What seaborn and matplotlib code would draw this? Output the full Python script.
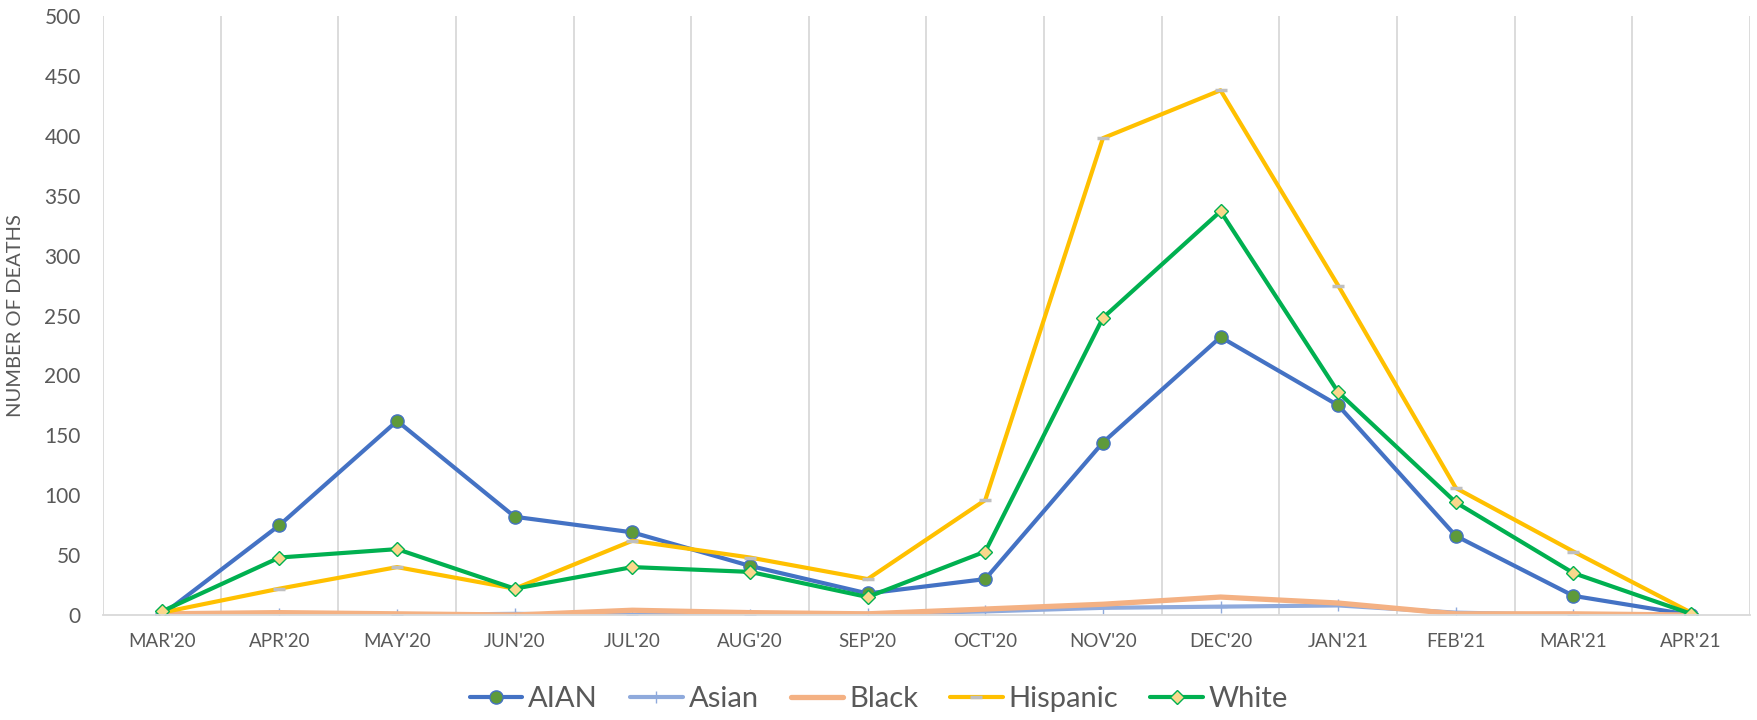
import numpy as np
import pandas as pd
import seaborn as sns
import matplotlib.pyplot as plt

months = ["MAR'20", "APR'20", "MAY'20", "JUN'20", "JUL'20", "AUG'20", "SEP'20",
          "OCT'20", "NOV'20", "DEC'20", "JAN'21", "FEB'21", "MAR'21", "APR'21"]

aian = [0, 75, 162, 82, 69, 41, 18, 30, 144, 232, 175, 66, 16, 0]
asian = [0, 1, 0, 1, 0, 0, 1, 3, 6, 7, 8, 2, 0, 0]
black = [1, 2, 1, 0, 4, 2, 1, 5, 9, 15, 10, 1, 1, 0]
hispanic = [2, 22, 40, 22, 62, 48, 30, 96, 398, 438, 275, 106, 53, 2]
white = [3, 48, 55, 22, 40, 36, 15, 53, 248, 337, 186, 94, 35, 1]

series = {"AIAN": aian, "Asian": asian, "Black": black,
          "Hispanic": hispanic, "White": white}

# line / marker look per group
styles = {
    "AIAN": dict(color="#4472C4", lw=3, marker="o", ms=9.5, mfc="#5E9A3A", mec="#4472C4", mew=1),
    "Asian": dict(color="#8FAADC", lw=3, marker="+", ms=9, mec="#8FAADC", mew=1),
    "Black": dict(color="#F4B183", lw=3.8, marker=None),
    "Hispanic": dict(color="#FFC000", lw=3, marker="_", ms=9, mec="#BFBFBF", mew=2.5),
    "White": dict(color="#00B050", lw=3, marker="D", ms=6.8, mfc="#FAD88C", mec="#00B050", mew=1),
}

df = pd.DataFrame({"month": months, **series})
long = df.melt(id_vars="month", var_name="group", value_name="deaths")

sns.set_style("white")
plt.rcParams['font.family'] = ['Lato', 'DejaVu Sans']

fig = plt.figure(figsize=(17.58, 7.2), dpi=100)
ax = fig.add_axes([0.0586, 0.1458, 0.9368, 0.832])

for name in series:
    st = styles[name]
    sub = long[long["group"] == name]
    kw = dict(color=st["color"], linewidth=st["lw"], label=name, sort=False, ax=ax)
    if st["marker"] is not None:
        kw.update(marker=st["marker"], markersize=st["ms"], markeredgecolor=st["mec"],
                  markeredgewidth=st["mew"])
        if "mfc" in st:
            kw["markerfacecolor"] = st["mfc"]
    sns.lineplot(data=sub, x="month", y="deaths", **kw)

n = len(months)
ax.set_xlim(-0.5, n - 0.5)
ax.set_ylim(0, 500)
ax.set_yticks(np.arange(0, 501, 50))
ax.set_xticks(np.arange(n))
ax.set_xticklabels(months)
ax.set_xticks(np.arange(n + 1) - 0.5, minor=True)
ax.grid(False)
ax.grid(True, which="minor", axis="x", color="#D9D9D9", lw=1.3)
ax.tick_params(axis="both", which="both", length=0)
ax.tick_params(axis="y", labelsize=15, labelcolor="#595959", pad=16)
ax.tick_params(axis="x", labelsize=13.5, labelcolor="#595959", pad=13)

for s in ["top", "right", "left"]:
    ax.spines[s].set_visible(False)
ax.spines["bottom"].set_color("#D9D9D9")
ax.spines["bottom"].set_linewidth(1.3)

ax.set_xlabel("")
ax.set_ylabel("NUMBER OF DEATHS", fontsize=14.5, color="#595959")
ax.yaxis.set_label_coords(-0.048, 0.5)

handles, labels = ax.get_legend_handles_labels()
if ax.get_legend():
    ax.get_legend().remove()
fig.legend(handles, labels, loc="lower center", bbox_to_anchor=(0.5, -0.025), ncol=5,
           frameon=False, fontsize=21, handlelength=1.8, handletextpad=0.2,
           columnspacing=1.1, labelcolor="#595959")

fig.savefig("out.png", dpi=100)
